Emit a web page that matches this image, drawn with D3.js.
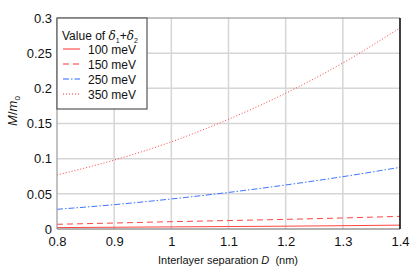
<!DOCTYPE html>
<html><head><meta charset="utf-8">
<script src="https://cdn.jsdelivr.net/npm/d3@7"></script>
<style>body{margin:0;background:#fff}svg{display:block;font-family:"Liberation Sans",Arial,sans-serif}</style>
</head><body><svg id="c" width="419" height="269"></svg>
<script>
const xValues = [0.8, 0.9, 1.0, 1.1, 1.2, 1.3, 1.4];
const s100 = [0.0020, 0.0025, 0.0030, 0.0035, 0.0040, 0.0047, 0.0055];
const s150 = [0.0067, 0.0085, 0.0104, 0.0120, 0.0137, 0.0157, 0.0180];
const s250 = [0.0280, 0.0346, 0.0427, 0.0520, 0.0626, 0.0744, 0.0877];
const s350 = [0.0768, 0.0980, 0.1240, 0.1560, 0.1930, 0.2360, 0.2860];
const seriesNames = ["100 meV", "150 meV", "250 meV", "350 meV"];
const xTicks = [0.8, 0.9, 1, 1.1, 1.2, 1.3, 1.4];
const yTicks = [0, 0.05, 0.1, 0.15, 0.2, 0.25, 0.3];

const series = [
  {name: seriesNames[0], vals: s100, color: "#ff3030", dash: null},
  {name: seriesNames[1], vals: s150, color: "#ff3030", dash: "6,4"},
  {name: seriesNames[2], vals: s250, color: "#2a66ff", dash: "6,2,1.5,2"},
  {name: seriesNames[3], vals: s350, color: "#ff3030", dash: "1,2"}
];

const svg = d3.select("#c");
const L = 57, R = 400, T = 18, B = 229;
const x = d3.scaleLinear().domain([0.8, 1.4]).range([L, R]);
const y = d3.scaleLinear().domain([0, 0.3]).range([B, T]);

// grid
svg.append("g").selectAll("line").data(xTicks.slice(1, -1)).join("line")
  .attr("x1", d => x(d)).attr("x2", d => x(d)).attr("y1", T).attr("y2", B)
  .attr("stroke", "#d6d6d6").attr("stroke-width", 1.5);
svg.append("g").selectAll("line").data(yTicks.slice(1, -1)).join("line")
  .attr("y1", d => y(d)).attr("y2", d => y(d)).attr("x1", L).attr("x2", R)
  .attr("stroke", "#d6d6d6").attr("stroke-width", 1.5);

// lines
const line = d3.line().x((d, i) => x(xValues[i])).y(d => y(d)).curve(d3.curveMonotoneX);
series.forEach(s => {
  svg.append("path").attr("d", line(s.vals)).attr("fill", "none")
    .attr("stroke", s.color).attr("stroke-width", 1).attr("stroke-opacity", 0.9)
    .attr("stroke-dasharray", s.dash);
});

// frame
svg.append("line").attr("x1", L).attr("x2", R).attr("y1", T).attr("y2", T).attr("stroke", "#888").attr("stroke-width", 1.2);
svg.append("line").attr("x1", L).attr("x2", L).attr("y1", T).attr("y2", B).attr("stroke", "#999").attr("stroke-width", 1.2);
svg.append("line").attr("x1", L).attr("x2", R).attr("y1", B).attr("y2", B).attr("stroke", "#666").attr("stroke-width", 1.2);
svg.append("line").attr("x1", R).attr("x2", R).attr("y1", T).attr("y2", B).attr("stroke", "#000").attr("stroke-width", 1.5);

// axes labels
const xAxis = d3.axisBottom(x).tickValues(xTicks).tickSize(0).tickPadding(8).tickFormat(d3.format("~g"));
const gx = svg.append("g").attr("transform", `translate(0,${B})`).call(xAxis);
gx.select(".domain").remove();
gx.selectAll("text").attr("font-size", 13).attr("fill", "#111").attr("font-family", "Liberation Sans, Arial, sans-serif");
const yAxis = d3.axisLeft(y).tickValues(yTicks).tickSize(0).tickPadding(5).tickFormat(d3.format("~g"));
const gy = svg.append("g").attr("transform", `translate(${L},0)`).call(yAxis);
gy.select(".domain").remove();
gy.selectAll("text").attr("font-size", 13).attr("fill", "#111").attr("font-family", "Liberation Sans, Arial, sans-serif");

// axis titles
const xt = svg.append("text").attr("x", 228).attr("y", 264).attr("text-anchor", "middle").attr("font-size", 11).attr("fill", "#111");
xt.append("tspan").text("Interlayer separation ");
xt.append("tspan").attr("font-style", "italic").text("D");
xt.append("tspan").text("\u00a0\u00a0(nm)");
const yt = svg.append("text").attr("transform", "translate(17,111) rotate(-90)").attr("text-anchor", "middle").attr("font-size", 13).attr("fill", "#111");
yt.append("tspan").attr("font-style", "italic").text("M");
yt.append("tspan").text("/");
yt.append("tspan").attr("font-style", "italic").text("m");
yt.append("tspan").attr("font-size", 8).attr("dy", 3).text("0");

// legend
const lg = svg.append("g");
lg.append("rect").attr("x", L).attr("y", T).attr("width", 90).attr("height", 91)
  .attr("fill", "#fff").attr("stroke", "#555").attr("stroke-width", 1.2);
const lt = lg.append("text").attr("x", 62).attr("y", 40).attr("font-size", 12).attr("fill", "#111");
lt.append("tspan").text("Value of ");
lt.append("tspan").attr("font-style", "italic").attr("font-family", "DejaVu Serif, serif").text("δ");
lt.append("tspan").attr("font-size", 7).attr("dy", 3).text("1");
lt.append("tspan").attr("dy", -3).text("+");
lt.append("tspan").attr("font-style", "italic").attr("font-family", "DejaVu Serif, serif").text("δ");
lt.append("tspan").attr("font-size", 7).attr("dy", 3).text("2");
series.forEach((s, i) => {
  const yy = 49 + i * 15;
  lg.append("line").attr("x1", 63).attr("x2", 80).attr("y1", yy).attr("y2", yy)
    .attr("stroke", s.color).attr("stroke-width", 1).attr("stroke-dasharray", s.dash);
  lg.append("text").attr("x", 88).attr("y", yy + 4.5).attr("font-size", 12).attr("fill", "#111").text(s.name);
});
</script></body></html>
